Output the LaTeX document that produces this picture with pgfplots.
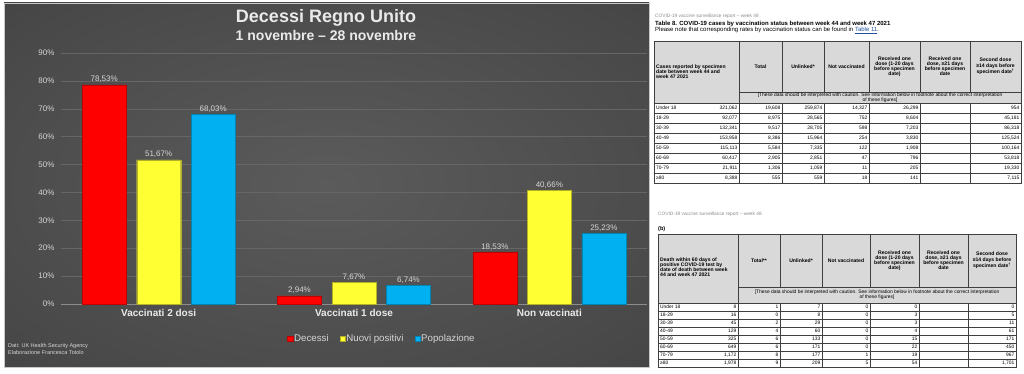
\documentclass[border=0pt]{standalone}
\usepackage{pgfplots}
\pgfplotsset{compat=1.18}
\usepackage{fontspec}
\setmainfont{Liberation Sans}
\definecolor{bgin}{HTML}{5B5B5B}
\definecolor{bgmid}{HTML}{484848}
\definecolor{bgout}{HTML}{262626}
\definecolor{panelborder}{HTML}{C8C8C8}
\definecolor{gridgray}{HTML}{666666}
\definecolor{axisgray}{HTML}{8C8C8C}
\definecolor{labelgray}{HTML}{D6D6D6}
\definecolor{titlegray}{HTML}{EAEAEA}
\definecolor{barred}{HTML}{FF0000}
\definecolor{baryellow}{HTML}{FFFF33}
\definecolor{barblue}{HTML}{00B0F0}
\definecolor{hdrgray}{HTML}{D9D9D9}
\definecolor{tlinec}{HTML}{3F3F3F}
\definecolor{smallgray}{HTML}{8C8C8C}
\definecolor{linkblue}{HTML}{1F4E9E}
\newcommand\fs[2]{\fontsize{#1}{#2}\selectfont}
\pgfdeclareradialshading{panel}{\pgfpoint{0bp}{0bp}}{color(0bp)=(bgin); color(32bp)=(bgmid); color(72bp)=(bgout)}
\begin{document}
\begin{tikzpicture}[x=1pt,y=1pt,
  tline/.style={draw=tlinec, line width=0.35pt},
  body/.style={font=\fs{4.9}{5}, inner sep=0pt, text=black},
  hdr/.style={font=\bfseries\fs{5.1}{5.1}, inner sep=0pt, align=center, text=black},
  caut/.style={font=\fs{4.9}{4.9}, inner sep=0pt, align=center, text=black}]
\useasboundingbox (0,0) rectangle (1024,373);
\fill[white] (0,0) rectangle (1024,373);
% ---------------- chart panel ----------------
\shade[shading=panel] (4,6) rectangle (649,370);
\draw[panelborder, line width=0.8pt] (4,6) rectangle (649,370);
\node[font=\bfseries\fs{18}{20}, text=titlegray, inner sep=0pt] at (326,355) {Decessi Regno Unito};
\node[font=\bfseries\fs{14}{16}, text=titlegray, inner sep=0pt] at (326,338) {1 novembre – 28 novembre};
\node[font=\fs{5.5}{7}, text=labelgray, inner sep=0pt, anchor=north west, align=left] at (8,30) {Dati: UK Health Security Agency\\Elaborazione Francesca Totolo};
\begin{axis}[
  at={(61pt,69pt)}, anchor=south west, scale only axis,
  width=586pt, height=251pt,
  xmin=-0.5, xmax=2.5, ymin=0, ymax=90,
  ytick={0,10,...,90},
  yticklabels={0\%,10\%,20\%,30\%,40\%,50\%,60\%,70\%,80\%,90\%},
  xtick={0,1,2},
  xticklabels={Vaccinati 2 dosi,Vaccinati 1 dose,Non vaccinati},
  /pgf/number format/assume math mode=true,
  axis lines*=left,
  y axis line style={draw=none},
  x axis line style={draw=axisgray, line width=1pt},
  major tick length=0pt,
  tick style={draw=none},
  ymajorgrids,
  major grid style={draw=gridgray, line width=0.5pt},
  yticklabel style={font=\fs{8}{9}, text=labelgray, xshift=-3pt},
  xticklabel style={font=\bfseries\fs{10}{12}, text=titlegray, yshift=-2pt},
  ybar=10.5pt, bar width=44pt,
  clip=false,
  nodes near coords={\pgfmathprintnumber[fixed,fixed zerofill,precision=2,use comma,assume math mode=true]{\pgfplotspointmeta}\%},
  every node near coord/.append style={font=\fs{8}{9}, text=labelgray, anchor=south, inner sep=2pt},
  legend columns=3,
  legend style={at={(0.547,-0.139)}, anchor=center, draw=none, fill=none,
    font=\fs{9.7}{11}, text=labelgray,
    /tikz/every even column/.append style={column sep=10pt},
    nodes={inner sep=1pt}},
  legend image code/.code={\fill[#1] (0pt,-2.7pt) rectangle (5.4pt,2.7pt);},
]
\addplot[fill=barred, draw=barred!75!black, line width=0.3pt] coordinates {(0,78.53) (1,2.94) (2,18.53)};
\addplot[fill=baryellow, draw=baryellow!70!black, line width=0.3pt] coordinates {(0,51.67) (1,7.67) (2,40.66)};
\addplot[fill=barblue, draw=barblue!75!black, line width=0.3pt] coordinates {(0,68.03) (1,6.74) (2,25.23)};
\legend{Decessi,Nuovi positivi,Popolazione}
\end{axis}
% ---------------- table 1 ----------------
\node[font=\fs{4.8}{5}, text=smallgray, anchor=west, inner sep=0pt] at (655,357) {COVID-19 vaccine surveillance report – week 48};
\node[font=\bfseries\fs{6}{7}, anchor=west, inner sep=0pt] at (655,349.5) {Table 8. COVID-19 cases by vaccination status between week 44 and week 47 2021};
\node[font=\fs{6}{7}, anchor=west, inner sep=0pt] at (655,342.5) {Please note that corresponding rates by vaccination status can be found in \textcolor{linkblue}{\underline{Table 11}}.};
\fill[hdrgray] (654,270) rectangle (1021,332);
\draw[tline] (654,190) rectangle (1021,332);
\draw[tline] (739,190) -- (739,332);
\foreach \x in {782,824,869,920,970} {\draw[tline] (\x,281) -- (\x,332); \draw[tline] (\x,190) -- (\x,270);}
\draw[tline] (739,281) -- (1021,281);
\foreach \k in {0,...,7} {\draw[tline] (654,{270-10*\k}) -- (1021,{270-10*\k});}
\node[hdr, align=left, anchor=west] at (656,301) {Cases reported by specimen\\date between week 44 and\\week 47 2021};
\node[hdr] at (760.5,306.5) {Total};
\node[hdr] at (803,306.5) {Unlinked*};
\node[hdr] at (846.5,306.5) {Not vaccinated};
\node[hdr] at (894.5,306.5) {Received one\\dose (1-20 days\\before specimen\\date)};
\node[hdr] at (945,306.5) {Received one\\dose, ≥21 days\\before specimen\\date};
\node[hdr] at (995.5,306.5) {Second dose\\≥14 days before\\specimen date\textsuperscript{†}};
\node[caut] at (880,275.5) {[These data should be interpreted with caution. See information below in footnote about the correct interpretation\\of these figures]};
\foreach \lab/\a/\b/\c/\d/\e/\f [count=\i from 0] in {
  Under 18/321{,}062/19{,}608/259{,}874/14{,}327/26{,}299/954,
  18-29/92{,}077/8{,}975/28{,}565/752/8{,}604/45{,}181,
  30-39/132{,}341/9{,}517/28{,}705/598/7{,}203/86{,}318,
  40-49/153{,}958/8{,}386/15{,}964/254/3{,}830/125{,}524,
  50-59/115{,}113/5{,}584/7{,}335/122/1{,}908/100{,}164,
  60-69/60{,}417/2{,}905/2{,}851/47/796/53{,}818,
  70-79/21{,}911/1{,}306/1{,}059/11/205/19{,}330,
  ≥80/8{,}388/555/559/18/141/7{,}115} {
  \pgfmathsetmacro\yy{265-10*\i}
  \node[body, anchor=west] at (656,\yy) {\lab};
  \node[body, anchor=east] at (737.5,\yy) {\a};
  \node[body, anchor=east] at (780.5,\yy) {\b};
  \node[body, anchor=east] at (822.5,\yy) {\c};
  \node[body, anchor=east] at (867.5,\yy) {\d};
  \node[body, anchor=east] at (918.5,\yy) {\e};
  \node[body, anchor=east] at (1019.5,\yy) {\f};
}
% ---------------- table 2 ----------------
\node[font=\fs{4.8}{5}, text=smallgray, anchor=west, inner sep=0pt] at (658,159) {COVID-19 vaccine surveillance report – week 48};
\node[font=\bfseries\fs{5.5}{6}, anchor=west, inner sep=0pt] at (658,143.5) {(b)};
\fill[hdrgray] (658,70) rectangle (1016,139);
\draw[tline] (658,6) rectangle (1016,139);
\draw[tline] (738,6) -- (738,139);
\foreach \x in {780,822,870,919,968} {\draw[tline] (\x,86) -- (\x,139); \draw[tline] (\x,6) -- (\x,70);}
\draw[tline] (738,86) -- (1016,86);
\foreach \k in {0,...,7} {\draw[tline] (658,{70-8*\k}) -- (1016,{70-8*\k});}
\node[hdr, align=left, anchor=west] at (660,105.5) {Death within 60 days of\\positive COVID-19 test by\\date of death between week\\44 and week 47 2021};
\node[hdr] at (759,112.5) {Total**};
\node[hdr] at (801,112.5) {Unlinked*};
\node[hdr] at (846,112.5) {Not vaccinated};
\node[hdr] at (894.5,112.5) {Received one\\dose (1-20 days\\before specimen\\date)};
\node[hdr] at (943.5,112.5) {Received one\\dose, ≥21 days\\before specimen\\date};
\node[hdr] at (992,112.5) {Second dose\\≥14 days before\\specimen date\textsuperscript{†}};
\node[caut] at (877,78) {[These data should be interpreted with caution. See information below in footnote about the correct interpretation\\of these figures]};
\foreach \lab/\a/\b/\c/\d/\e/\f [count=\i from 0] in {
  Under 18/8/1/7/0/0/0,
  18-29/16/0/8/0/3/5,
  30-39/45/2/29/0/3/11,
  40-49/129/4/60/0/4/61,
  50-59/325/6/133/0/15/171,
  60-69/649/6/171/0/22/450,
  70-79/1{,}172/8/177/1/19/967,
  ≥80/1{,}978/9/209/5/54/1{,}701} {
  \pgfmathsetmacro\yy{66-8*\i}
  \node[body, anchor=west] at (660,\yy) {\lab};
  \node[body, anchor=east] at (736.5,\yy) {\a};
  \node[body, anchor=east] at (778.5,\yy) {\b};
  \node[body, anchor=east] at (820.5,\yy) {\c};
  \node[body, anchor=east] at (868.5,\yy) {\d};
  \node[body, anchor=east] at (917.5,\yy) {\e};
  \node[body, anchor=east] at (1014.5,\yy) {\f};
}
\end{tikzpicture}
\end{document}
